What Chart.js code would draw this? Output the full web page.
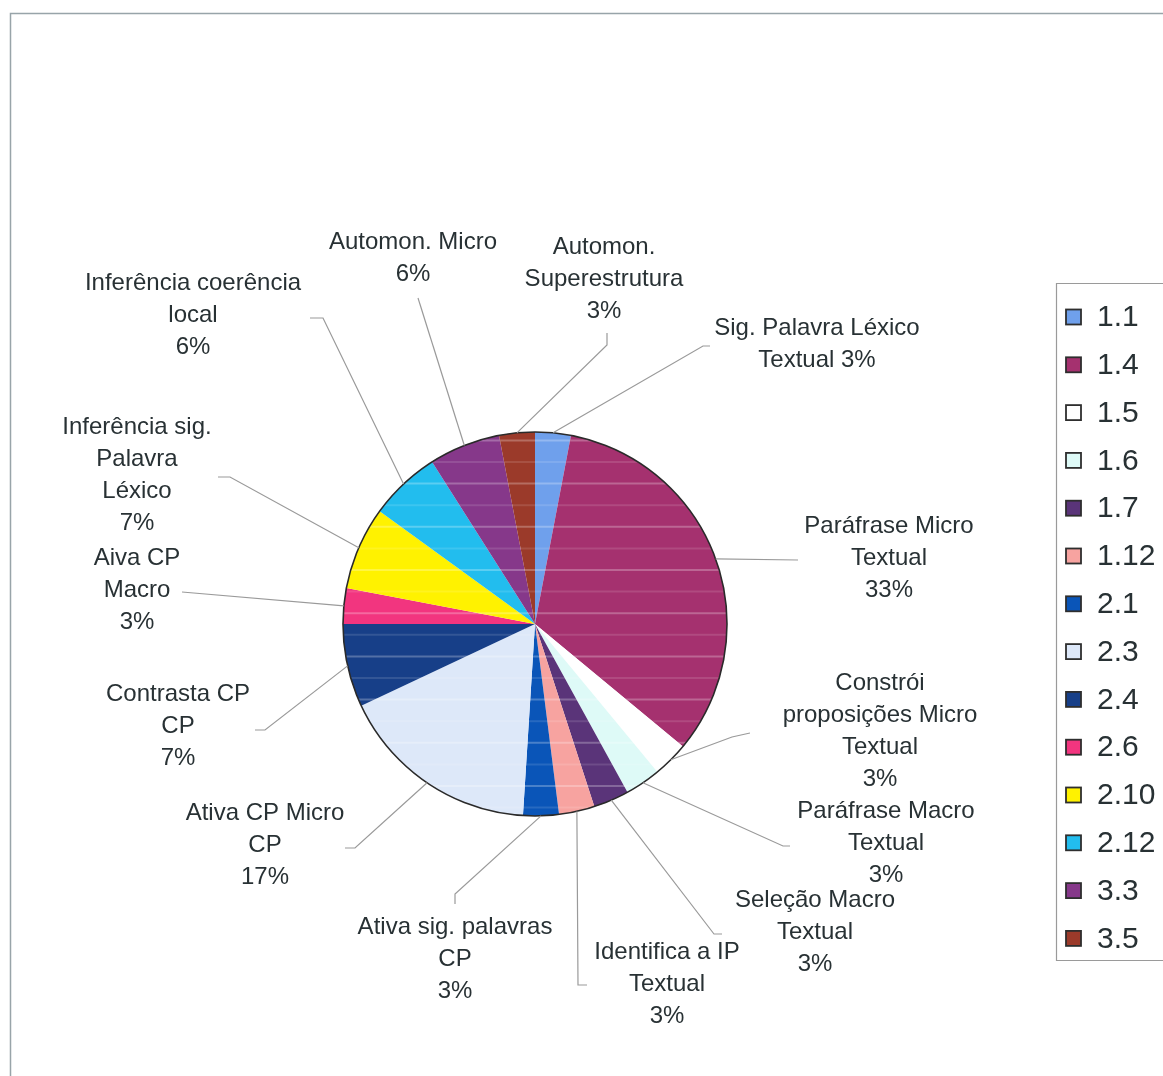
<!DOCTYPE html>
<html>
<head>
<meta charset="utf-8">
<script src="https://cdn.jsdelivr.net/npm/chart.js@4.4.1/dist/chart.umd.min.js"></script>
<style>
    html, body { margin: 0; padding: 0; background: #fff; }
    #caixa { width: 1163px; height: 1076px; }
</style>
</head>
<body>
<div id="caixa"><canvas id="grafico" width="1163" height="1076"></canvas></div>
<script>
// habilidades (codigos da legenda)
const codigos = ['1.1', '1.4', '1.5', '1.6', '1.7', '1.12', '2.1', '2.3', '2.4', '2.6', '2.10', '2.12', '3.3', '3.5'];

// descricao de cada fatia (sem a porcentagem)
const descricoes = [
    ['Sig. Palavra Léxico', 'Textual'],
    ['Paráfrase Micro', 'Textual'],
    ['Constrói', 'proposições Micro', 'Textual'],
    ['Paráfrase Macro', 'Textual'],
    ['Seleção Macro', 'Textual'],
    ['Identifica a IP', 'Textual'],
    ['Ativa sig. palavras', 'CP'],
    ['Ativa CP Micro', 'CP'],
    ['Contrasta CP', 'CP'],
    ['Aiva CP', 'Macro'],
    ['Inferência sig.', 'Palavra', 'Léxico'],
    ['Inferência coerência', 'local'],
    ['Automon. Micro'],
    ['Automon.', 'Superestrutura']
];

// porcentagens
const porcentagens = [3, 33, 3, 3, 3, 3, 3, 17, 7, 3, 7, 6, 6, 3];

const cores = ['#6fa0ec', '#a5316f', '#ffffff', '#defaf7', '#5a3479', '#f7a3a0', '#0a55b8',
    '#dde8f9', '#173f88', '#f2357f', '#fff200', '#22bdee', '#86388a', '#9b3a2a'];

// posicao dos rotulos: centro do texto, primeira linha, e pontos da linha guia
const rotulos = [
    { x: 817, y: 328, junto: true, guia: [[710, 346], [703, 346]] },
    { x: 889, y: 526, guia: [[798, 560]] },
    { x: 880, y: 683, guia: [[750, 733], [732, 737]] },
    { x: 886, y: 811, guia: [[790, 846], [783, 846]] },
    { x: 815, y: 900, guia: [[722, 934], [714, 934]] },
    { x: 667, y: 952, guia: [[587, 985], [578, 985]] },
    { x: 455, y: 927, guia: [[455, 904], [455, 894]] },
    { x: 265, y: 813, guia: [[345, 848], [355, 848]] },
    { x: 178, y: 694, guia: [[255, 730], [265, 730]] },
    { x: 137, y: 558, guia: [[182, 592]] },
    { x: 137, y: 427, guia: [[218, 477], [230, 477]] },
    { x: 193, y: 283, guia: [[310, 318], [323, 318]] },
    { x: 413, y: 242, guia: [[418, 298]] },
    { x: 604, y: 247, guia: [[607, 333], [607, 345]] }
];

const fonte = '"Liberation Sans", Arial, sans-serif';

// moldura cinza da area do grafico
const moldura = {
    id: 'moldura',
    beforeDraw(chart) {
        const ctx = chart.ctx;
        ctx.save();
        ctx.fillStyle = '#fff';
        ctx.fillRect(0, 0, chart.width, chart.height);
        ctx.strokeStyle = '#98a4a9';
        ctx.lineWidth = 1.5;
        ctx.beginPath();
        ctx.moveTo(10.5, chart.height);
        ctx.lineTo(10.5, 13.5);
        ctx.lineTo(chart.width, 13.5);
        ctx.stroke();
        ctx.restore();
    }
};

// listras claras do impresso e contorno da pizza
const contorno = {
    id: 'contorno',
    afterDatasetsDraw(chart) {
        const ctx = chart.ctx;
        const arco = chart.getDatasetMeta(0).data[0];
        const cx = arco.x, cy = arco.y, r = arco.outerRadius;
        ctx.save();
        ctx.beginPath();
        ctx.arc(cx, cy, r, 0, Math.PI * 2);
        ctx.clip();
        for (let k = -9; k <= 9; k++) {
            const y = cy - 162 + (k + 7) * 21.6;
            ctx.strokeStyle = k % 2 === 0 ? 'rgba(255,255,255,0.26)' : 'rgba(255,255,255,0.12)';
            ctx.lineWidth = 2;
            ctx.beginPath();
            ctx.moveTo(cx - r, y);
            ctx.lineTo(cx + r, y);
            ctx.stroke();
        }
        ctx.restore();

        ctx.save();
        ctx.strokeStyle = '#2a2a2a';
        ctx.lineWidth = 1.6;
        ctx.beginPath();
        ctx.arc(cx, cy, r, 0, Math.PI * 2);
        ctx.stroke();
        ctx.restore();
    }
};

// rotulos com linhas guia
const rotulosFatias = {
    id: 'rotulosFatias',
    afterDraw(chart) {
        const ctx = chart.ctx;
        const meta = chart.getDatasetMeta(0);
        ctx.save();
        meta.data.forEach((arco, i) => {
            const rot = rotulos[i];
            const meio = (arco.startAngle + arco.endAngle) / 2;
            const px = arco.x + Math.cos(meio) * arco.outerRadius;
            const py = arco.y + Math.sin(meio) * arco.outerRadius;

            ctx.strokeStyle = '#9a9a9a';
            ctx.lineWidth = 1.2;
            ctx.beginPath();
            ctx.moveTo(rot.guia[0][0], rot.guia[0][1]);
            for (let k = 1; k < rot.guia.length; k++) ctx.lineTo(rot.guia[k][0], rot.guia[k][1]);
            ctx.lineTo(px, py);
            ctx.stroke();

            const linhas = descricoes[i].slice();
            const pct = chart.data.datasets[0].data[i] + '%';
            if (rot.junto) linhas[linhas.length - 1] += ' ' + pct;
            else linhas.push(pct);

            ctx.fillStyle = '#283134';
            ctx.font = '24px ' + fonte;
            ctx.textAlign = 'center';
            ctx.textBaseline = 'middle';
            linhas.forEach((t, k) => ctx.fillText(t, rot.x, rot.y + k * 32));
        });
        ctx.restore();
    }
};

// legenda em caixa a direita
const legendaCaixa = {
    id: 'legendaCaixa',
    afterDraw(chart) {
        const ctx = chart.ctx;
        const ds = chart.data.datasets[0];
        ctx.save();
        ctx.strokeStyle = '#9a9a9a';
        ctx.lineWidth = 1.2;
        ctx.beginPath();
        ctx.moveTo(chart.width, 283.5);
        ctx.lineTo(1056.5, 283.5);
        ctx.lineTo(1056.5, 960.5);
        ctx.lineTo(chart.width, 960.5);
        ctx.stroke();

        ctx.font = '30px ' + fonte;
        ctx.textAlign = 'left';
        ctx.textBaseline = 'middle';
        chart.data.labels.forEach((lab, i) => {
            const y = 317 + i * 47.8;
            ctx.fillStyle = ds.backgroundColor[i];
            ctx.fillRect(1066, y - 7.5, 15, 15);
            ctx.strokeStyle = '#2e2e2e';
            ctx.lineWidth = 1.8;
            ctx.strokeRect(1066, y - 7.5, 15, 15);
            ctx.fillStyle = '#283134';
            ctx.fillText(lab, 1097, y + 1);
        });
        ctx.restore();
    }
};

let ctx = document.getElementById('grafico');
let grafico = new Chart(ctx, {
    type: 'pie',
    data: {
        labels: codigos,
        datasets: [{
            data: porcentagens,
            backgroundColor: cores,
            borderWidth: 0,
            hoverOffset: 0,
            radius: 192
        }]
    },
    options: {
        responsive: false,
        animation: false,
        layout: { padding: { left: 343, right: 436, top: 432, bottom: 260 } },
        plugins: {
            legend: { display: false },
            tooltip: { enabled: false }
        }
    },
    plugins: [moldura, contorno, rotulosFatias, legendaCaixa]
});
</script>
</body>
</html>
